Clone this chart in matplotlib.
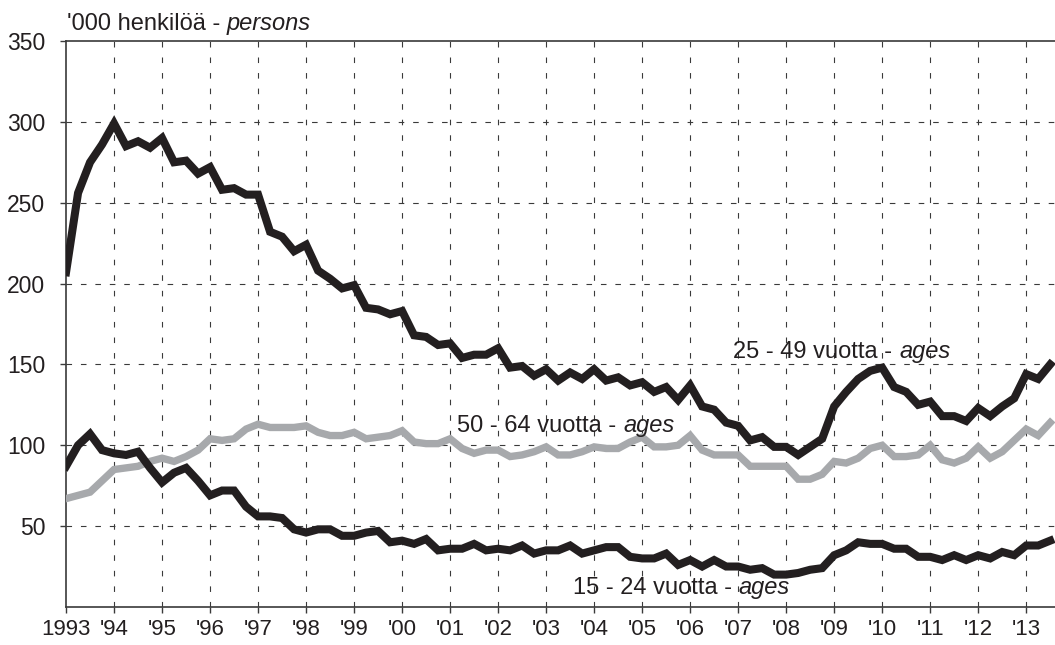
import numpy as np
import matplotlib.pyplot as plt

# Quarterly series, thousands of persons, 1993 Q1 .. 2013 Q3
start_year = 1993
ages_25_49 = [207, 256, 275, 286, 299, 285, 288, 284, 290, 275, 276, 268, 272, 258, 259, 255,
              255, 232, 229, 220, 224, 208, 203, 197, 199, 185, 184, 181, 183, 168, 167, 162,
              163, 154, 156, 156, 160, 148, 149, 143, 147, 140, 145, 141, 147, 140, 142, 137,
              139, 133, 136, 128, 137, 124, 122, 114, 112, 103, 105, 99, 99, 94, 99, 104,
              124, 133, 141, 146, 148, 136, 133, 125, 127, 118, 118, 115, 123, 118, 124, 129,
              144, 141, 150]
ages_50_64 = [67, 69, 71, 78, 85, 86, 87, 90, 92, 90, 93, 97, 104, 103, 104, 110,
              113, 111, 111, 111, 112, 108, 106, 106, 108, 104, 105, 106, 109, 102, 101, 101,
              104, 98, 95, 97, 97, 93, 94, 96, 99, 94, 94, 96, 99, 98, 98, 102,
              105, 99, 99, 100, 106, 97, 94, 94, 94, 87, 87, 87, 87, 79, 79, 82,
              90, 89, 92, 98, 100, 93, 93, 94, 100, 91, 89, 92, 99, 92, 96, 103,
              110, 106, 114]
ages_15_24 = [87, 100, 107, 97, 95, 94, 96, 86, 77, 83, 86, 78, 69, 72, 72, 62,
              56, 56, 55, 48, 46, 48, 48, 44, 44, 46, 47, 40, 41, 39, 42, 35,
              36, 36, 39, 35, 36, 35, 38, 33, 35, 35, 38, 33, 35, 37, 37, 31,
              30, 30, 33, 26, 29, 25, 29, 25, 25, 23, 24, 20, 20, 21, 23, 24,
              32, 35, 40, 39, 39, 36, 36, 31, 31, 29, 32, 29, 32, 30, 34, 32,
              38, 38, 41]

year_ticks = list(range(1993, 2014))
year_labels = ["1993"] + ["'%02d" % (y % 100) for y in year_ticks[1:]]
y_ticks = [50, 100, 150, 200, 250, 300, 350]

quarters = start_year + np.arange(len(ages_25_49)) / 4.0

dark = "#231f20"
grey = "#a7a9ac"

plt.rcParams['font.family'] = ['Liberation Sans', 'DejaVu Sans']

fig = plt.figure(figsize=(10.55, 6.45), dpi=100)
ax = fig.add_axes([0.0626, 0.059, 0.9374, 0.8774])

ax.plot(quarters, ages_50_64, color=grey, lw=5.3, solid_joinstyle='miter', zorder=3)
ax.plot(quarters, ages_25_49, color=dark, lw=5.8, solid_joinstyle='miter', zorder=4)
ax.plot(quarters, ages_15_24, color=dark, lw=5.8, solid_joinstyle='miter', zorder=4)

ax.set_xlim(1993, 2013.6)
ax.set_ylim(0, 350)

ax.set_xticks(year_ticks)
ax.set_xticklabels(year_labels)
ax.set_yticks(y_ticks)

# dashed grid, skipping the top line which is the frame
for y in y_ticks[:-1]:
    ax.axhline(y, color="#3a3a3a", lw=0.8, ls=(0, (5, 8)), zorder=1)
for x in year_ticks[1:]:
    ax.axvline(x, color="#3a3a3a", lw=0.8, ls=(0, (5, 9)), zorder=1)

for side in ["left", "bottom", "top"]:
    ax.spines[side].set_color("#3a3a3a")
    ax.spines[side].set_linewidth(1.2)
ax.spines["right"].set_visible(False)

ax.tick_params(axis="both", direction="out", length=4, width=1, color="#3a3a3a",
               labelsize=16.5, labelcolor=dark)
ax.tick_params(axis="x", pad=5, labelsize=16)
ax.tick_params(axis="y", pad=11)

txt = dict(fontsize=17, color=dark, zorder=5)
ax.text(1993.02, 357, "'000 henkilöä - ", ha="left", va="baseline", **txt)
ax.annotate("persons", xy=(1, 0), xycoords=ax.texts[-1], ha="left", va="bottom",
            style="italic", **txt)

def series_label(x, y, text):
    t = ax.text(x, y, text + " - ", ha="left", va="baseline", **txt)
    ax.annotate("ages", xy=(1, 0), xycoords=t, ha="left", va="bottom",
                style="italic", **txt)

series_label(2006.9, 154, "25 - 49 vuotta")
series_label(2001.15, 108.5, "50 - 64 vuotta")
series_label(2003.55, 8.3, "15 - 24 vuotta")

fig.savefig("out.png", dpi=100)
